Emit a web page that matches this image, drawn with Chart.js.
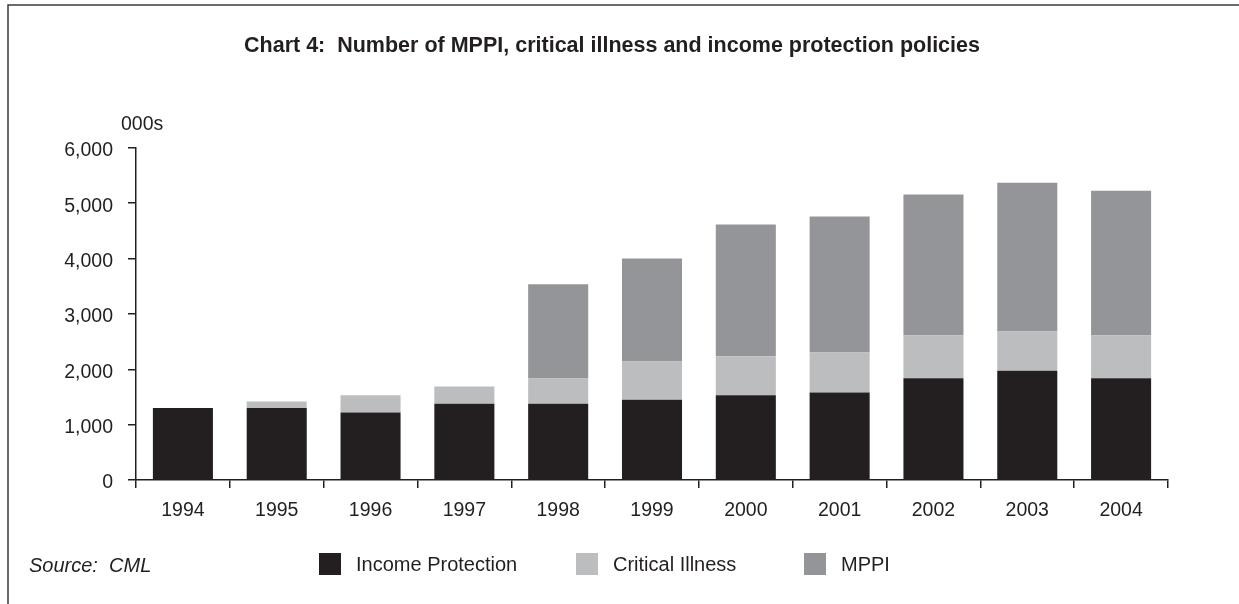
<!DOCTYPE html>
<html>
<head>
<meta charset="utf-8">
<script src="https://cdn.jsdelivr.net/npm/chart.js@4/dist/chart.umd.min.js"></script>
<style>
  html, body { margin: 0; padding: 0; background: #fff; }
  #wrap { width: 1239px; height: 604px; position: relative; }
</style>
</head>
<body>
<div id="wrap"><canvas id="chart"></canvas></div>
<script>
// values in thousands of policies
const years = ['1994', '1995', '1996', '1997', '1998', '1999', '2000', '2001', '2002', '2003', '2004'];
const incomeProtection = [1300, 1300, 1220, 1380, 1380, 1450, 1530, 1580, 1840, 1975, 1840];
const criticalIllness = [0, 120, 310, 310, 455, 690, 705, 725, 770, 710, 770];
const mppi = [0, 0, 0, 0, 1700, 1860, 2380, 2455, 2545, 2685, 2615];
const yTicks = [0, 1000, 2000, 3000, 4000, 5000, 6000];

const ink = '#231f20';
const fontFamily = '"Liberation Sans", Arial, Helvetica, sans-serif';

// frame, units label, source note and legend
const extras = {
    id: 'extras',
    afterDraw(chart) {
        const ctx = chart.ctx;
        ctx.save();
        ctx.strokeStyle = '#3a3a3a';
        ctx.lineWidth = 1.5;
        ctx.beginPath();
        ctx.moveTo(8, 604);
        ctx.lineTo(8, 5);
        ctx.lineTo(1239, 5);
        ctx.stroke();

        ctx.fillStyle = ink;
        ctx.textBaseline = 'middle';
        ctx.textAlign = 'left';
        ctx.font = '19.5px ' + fontFamily;
        ctx.fillText('000s', 121, 125);

        ctx.font = 'italic 20px ' + fontFamily;
        ctx.fillText('Source:  CML', 29, 566);

        // legend
        const boxX = [319, 576, 804];
        ctx.font = '20px ' + fontFamily;
        chart.data.datasets.forEach(function(ds, i) {
            ctx.fillStyle = ds.backgroundColor;
            ctx.fillRect(boxX[i], 553, 22, 22);
            ctx.fillStyle = ink;
            ctx.fillText(ds.label, boxX[i] + 37, 565);
        });
        ctx.restore();
    }
};

const ctx = document.getElementById('chart').getContext('2d');
const chart = new Chart(ctx, {
    type: 'bar',
    data: {
        labels: years,
        datasets: [
            { label: 'Income Protection', data: incomeProtection, backgroundColor: ink },
            { label: 'Critical Illness', data: criticalIllness, backgroundColor: '#bcbdbf' },
            { label: 'MPPI', data: mppi, backgroundColor: '#949599' }
        ]
    },
    options: {
        responsive: true,
        maintainAspectRatio: false,
        animation: false,
        layout: {
            padding: { left: 56, right: 71, top: 0, bottom: 70.5 }
        },
        datasets: {
            bar: { categoryPercentage: 1, barPercentage: 0.64 }
        },
        scales: {
            x: {
                stacked: true,
                border: { color: ink, width: 1.5 },
                grid: { drawOnChartArea: false, tickLength: 8, color: ink, lineWidth: 1.5, offset: true },
                ticks: { color: ink, padding: 11, font: { family: fontFamily, size: 19.5 }, maxRotation: 0 }
            },
            y: {
                stacked: true,
                min: 0,
                max: 6000,
                afterFit: function(scale) { scale.width = 80; },
                afterBuildTicks: function(scale) {
                    scale.ticks = yTicks.map(function(v) { return { value: v }; });
                },
                border: { color: ink, width: 1.5 },
                grid: { drawOnChartArea: false, tickLength: 8, color: ink, lineWidth: 1.5 },
                ticks: {
                    color: ink,
                    padding: 15,
                    labelOffset: 3,
                    font: { family: fontFamily, size: 19.5 },
                    callback: function(v) { return v.toLocaleString('en-GB'); }
                }
            }
        },
        plugins: {
            legend: { display: false },
            tooltip: { enabled: false },
            title: {
                display: true,
                text: 'Chart 4:  Number of MPPI, critical illness and income protection policies',
                color: ink,
                font: { family: fontFamily, size: 21.5, weight: 'bold' },
                padding: { top: 33, bottom: 89 }
            }
        }
    },
    plugins: [extras]
});
</script>
</body>
</html>
